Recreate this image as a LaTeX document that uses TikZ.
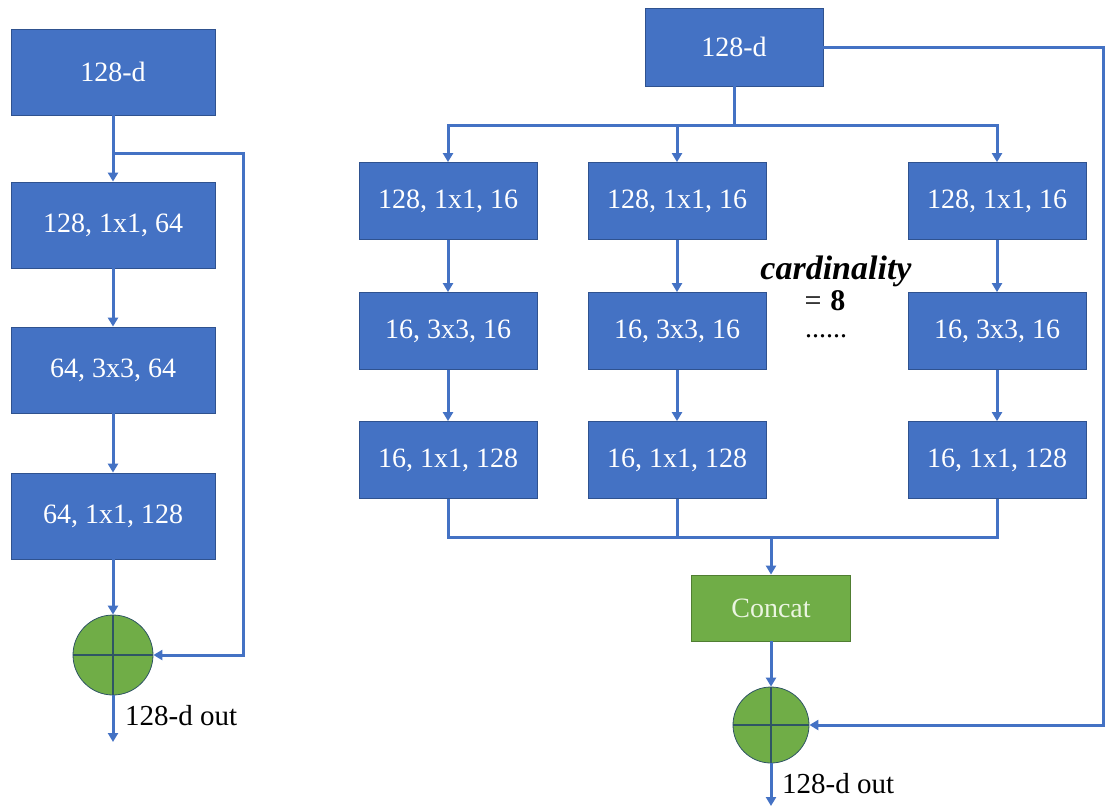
\documentclass[tikz,border=0pt]{standalone}
\usepackage{fontspec}
\setmainfont{Liberation Serif}
\usetikzlibrary{arrows.meta}
\definecolor{boxblue}{HTML}{4472C4}
\definecolor{boxedge}{HTML}{2F528F}
\definecolor{linkblue}{HTML}{4472C4}
\definecolor{addgreen}{HTML}{70AD47}
\definecolor{greenedge}{HTML}{507E32}
\definecolor{crossdark}{RGB}{47,85,100}
\tikzset{
  blk/.style={draw=boxedge, line width=0.8pt, fill=boxblue, text=white, font=\fontsize{28}{30}\selectfont, inner sep=0pt},
  lblk/.style={blk, minimum width=204pt, minimum height=86pt},
  rblk/.style={blk, minimum width=178pt, minimum height=77pt},
  catblk/.style={draw=greenedge, line width=0.8pt, fill=addgreen, text={rgb,255:red,235;green,245;blue,225}, font=\fontsize{28}{30}\selectfont, minimum width=159pt, minimum height=66pt, inner sep=0pt},
  addnode/.style={circle, draw=crossdark, line width=0.8pt, fill=addgreen, inner sep=0pt},
  link/.style={draw=linkblue, line width=3pt},
  arr/.style={link, -{Triangle[length=9pt,width=10pt]}},
  outlbl/.style={font=\fontsize{29}{30}\selectfont, anchor=west, inner sep=0pt}
}
\begin{document}
\begin{tikzpicture}[x=1pt, y=-1pt]
\useasboundingbox (0,0) rectangle (1105,807);
% ---------- left block ----------
\node[lblk] (L0) at (113,72) {128-d};
\node[lblk] (L1) at (113,225) {128, 1x1, 64};
\node[lblk] (L2) at (113,370) {64, 3x3, 64};
\node[lblk] (L3) at (113,516) {64, 1x1, 128};
\node[addnode, minimum size=80pt] (LA) at (113,655) {};
\draw[crossdark, line width=1.2pt] (LA.north) -- (LA.south) (LA.west) -- (LA.east);
\coordinate (Lsplit) at (113,153);
\coordinate (Lskip1) at (243,153);
\coordinate (Lskip2) at (243,655);
\coordinate (Lout) at (113,742);
\draw[arr] (L0.south) -- (L1.north);
\draw[arr] (L1.south) -- (L2.north);
\draw[arr] (L2.south) -- (L3.north);
\draw[arr] (L3.south) -- (LA.north);
\draw[arr] (Lsplit) -- (Lskip1) -- (Lskip2) -- (LA.east);
\draw[arr] (LA.south) -- (Lout);
\node[outlbl] (Lt) at (125,716) {128-d out};
% ---------- right block ----------
\node[rblk, minimum height=78pt] (R0) at (734,47) {128-d};
\foreach \c/\x in {a/448, b/677, c/997}{
  \node[rblk] (\c1) at (\x,201) {128, 1x1, 16};
  \node[rblk] (\c2) at (\x,331) {16, 3x3, 16};
  \node[rblk] (\c3) at (\x,460) {16, 1x1, 128};
  \coordinate (\c top) at (\x,125);
  \coordinate (\c bot) at (\x,537);
  \draw[arr] (\c top) -- (\c1.north);
  \draw[arr] (\c1.south) -- (\c2.north);
  \draw[arr] (\c2.south) -- (\c3.north);
  \draw[link] (\c3.south) -- (\c bot);
}
\coordinate (Rsplit) at (734,125);
\draw[link] (R0.south) -- (Rsplit);
\draw[link, line cap=rect] (atop) -- (ctop);
\draw[link, line cap=rect] (abot) -- (cbot);
\node[catblk] (cat) at (771,608) {Concat};
\coordinate (Rmerge) at (771,537);
\draw[arr] (Rmerge) -- (cat.north);
\node[addnode, minimum size=76pt] (RA) at (771,725) {};
\draw[crossdark, line width=1.2pt] (RA.north) -- (RA.south) (RA.west) -- (RA.east);
\draw[arr] (cat.south) -- (RA.north);
\coordinate (Rskip1) at (1103,47);
\coordinate (Rskip2) at (1103,725);
\draw[arr] (R0.east) -- (Rskip1) -- (Rskip2) -- (RA.east);
\coordinate (Rout) at (771,806);
\draw[arr] (RA.south) -- (Rout);
\node[outlbl] (Rt) at (782,784) {128-d out};
% ---------- cardinality ----------
\node[font=\fontsize{34}{36}\selectfont\bfseries\itshape, inner sep=0pt] (card) at (836,271) {cardinality};
\node[font=\fontsize{30}{32}\selectfont, inner sep=0pt] (eq) at (825,301) {=\hspace{0.3em}\textbf{8}};
\node[font=\fontsize{28}{30}\selectfont, inner sep=0pt] (dots) at (826,336) {......};
\end{tikzpicture}
\end{document}
